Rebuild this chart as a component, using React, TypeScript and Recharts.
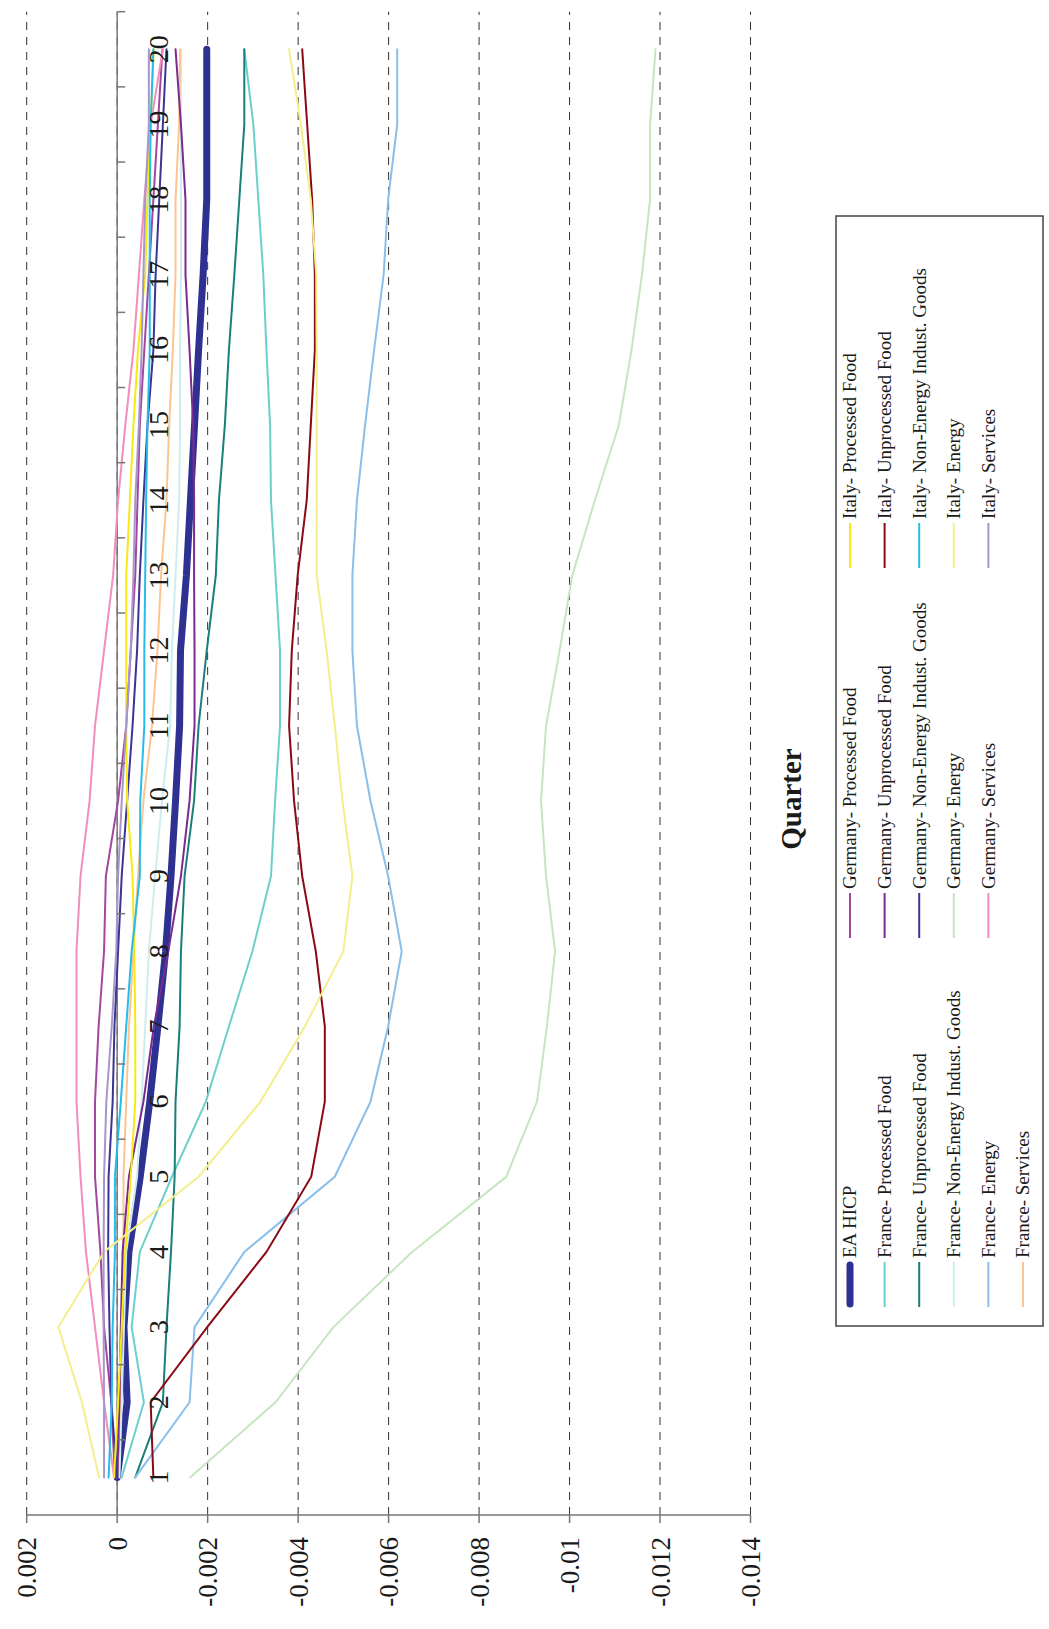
import React from "react"
import { LineChart, Line, XAxis, YAxis, CartesianGrid, ReferenceLine } from "recharts"

// chart is drawn landscape and turned 90deg to match the scanned page
const QUARTERS = ["1", "2", "3", "4", "5", "6", "7", "8", "9", "10", "11", "12", "13", "14", "15", "16", "17", "18", "19", "20"]
const VALUE_TICKS = [0.002, 0, -0.002, -0.004, -0.006, -0.008, -0.01, -0.012, -0.014]

const EA_HICP = [0, -0.22e-3, -0.15e-3, -0.26e-3, -0.51e-3, -0.72e-3, -0.9e-3, -1.07e-3, -1.19e-3, -1.29e-3, -1.38e-3, -1.4e-3, -1.53e-3, -1.62e-3, -1.71e-3, -1.8e-3, -1.9e-3, -1.98e-3, -1.98e-3, -1.98e-3]
const FR_PROC = [-0.1e-3, -0.59e-3, -0.32e-3, -0.5e-3, -1.21e-3, -1.96e-3, -2.47e-3, -2.99e-3, -3.4e-3, -3.49e-3, -3.6e-3, -3.6e-3, -3.5e-3, -3.4e-3, -3.38e-3, -3.3e-3, -3.23e-3, -3.12e-3, -3.01e-3, -2.81e-3]
const FR_UNPROC = [-0.4e-3, -1.01e-3, -1.09e-3, -1.19e-3, -1.27e-3, -1.29e-3, -1.38e-3, -1.41e-3, -1.49e-3, -1.7e-3, -1.8e-3, -1.98e-3, -2.18e-3, -2.25e-3, -2.38e-3, -2.47e-3, -2.59e-3, -2.7e-3, -2.81e-3, -2.81e-3]
const FR_NEIG = [-0.05e-3, -0.1e-3, -0.15e-3, -0.2e-3, -0.44e-3, -0.54e-3, -0.62e-3, -0.7e-3, -0.84e-3, -0.99e-3, -1.17e-3, -1.21e-3, -1.29e-3, -1.37e-3, -1.39e-3, -1.39e-3, -1.41e-3, -1.41e-3, -1.41e-3, -1.41e-3]
const FR_ENERGY = [-0.4e-3, -1.6e-3, -1.71e-3, -2.81e-3, -4.81e-3, -5.6e-3, -5.99e-3, -6.29e-3, -5.99e-3, -5.6e-3, -5.3e-3, -5.2e-3, -5.2e-3, -5.3e-3, -5.48e-3, -5.68e-3, -5.89e-3, -5.99e-3, -6.19e-3, -6.19e-3]
const FR_SERV = [0, -0.06e-3, -0.1e-3, -0.14e-3, -0.14e-3, -0.2e-3, -0.26e-3, -0.36e-3, -0.46e-3, -0.58e-3, -0.77e-3, -0.89e-3, -0.97e-3, -1.09e-3, -1.15e-3, -1.23e-3, -1.29e-3, -1.29e-3, -1.37e-3, -1.39e-3]
const DE_PROC = [0.05e-3, 0.13e-3, 0.29e-3, 0.37e-3, 0.49e-3, 0.49e-3, 0.41e-3, 0.29e-3, 0.25e-3, -0.02e-3, -0.2e-3, -0.3e-3, -0.4e-3, -0.45e-3, -0.5e-3, -0.6e-3, -0.7e-3, -0.8e-3, -0.9e-3, -1.0e-3]
const DE_UNPROC = [0, -0.05e-3, -0.08e-3, -0.12e-3, -0.26e-3, -0.58e-3, -0.81e-3, -1.13e-3, -1.41e-3, -1.6e-3, -1.71e-3, -1.71e-3, -1.7e-3, -1.7e-3, -1.68e-3, -1.6e-3, -1.51e-3, -1.51e-3, -1.41e-3, -1.29e-3]
const DE_NEIG = [0, 0.13e-3, 0.17e-3, 0.2e-3, 0.19e-3, 0.1e-3, 0.06e-3, -0.02e-3, -0.1e-3, -0.22e-3, -0.34e-3, -0.44e-3, -0.5e-3, -0.58e-3, -0.67e-3, -0.8e-3, -0.85e-3, -0.93e-3, -1.01e-3, -1.09e-3]
const DE_ENERGY = [-1.61e-3, -3.5e-3, -4.78e-3, -6.52e-3, -8.6e-3, -9.28e-3, -9.5e-3, -9.68e-3, -9.48e-3, -9.37e-3, -9.48e-3, -9.78e-3, -10.06e-3, -10.56e-3, -11.09e-3, -11.37e-3, -11.6e-3, -11.78e-3, -11.78e-3, -11.9e-3]
const DE_SERV = [0.07e-3, 0.29e-3, 0.49e-3, 0.69e-3, 0.81e-3, 0.9e-3, 0.9e-3, 0.9e-3, 0.81e-3, 0.61e-3, 0.49e-3, 0.29e-3, 0.09e-3, -0.02e-3, -0.18e-3, -0.36e-3, -0.48e-3, -0.6e-3, -0.74e-3, -1.01e-3]
const IT_PROC = [0.07e-3, -0.02e-3, -0.1e-3, -0.18e-3, -0.3e-3, -0.4e-3, -0.4e-3, -0.38e-3, -0.34e-3, -0.22e-3, -0.2e-3, -0.2e-3, -0.2e-3, -0.28e-3, -0.36e-3, -0.46e-3, -0.62e-3, -0.67e-3, -0.74e-3, -0.81e-3]
const IT_UNPROC = [-0.8e-3, -0.74e-3, -1.99e-3, -3.3e-3, -4.29e-3, -4.59e-3, -4.59e-3, -4.39e-3, -4.09e-3, -3.91e-3, -3.8e-3, -3.86e-3, -3.99e-3, -4.19e-3, -4.28e-3, -4.37e-3, -4.37e-3, -4.31e-3, -4.2e-3, -4.09e-3]
const IT_NEIG = [0.19e-3, 0.12e-3, 0.1e-3, 0.05e-3, 0.05e-3, -0.08e-3, -0.2e-3, -0.32e-3, -0.5e-3, -0.51e-3, -0.6e-3, -0.6e-3, -0.62e-3, -0.64e-3, -0.67e-3, -0.72e-3, -0.72e-3, -0.72e-3, -0.74e-3, -0.8e-3]
const IT_ENERGY = [0.4e-3, 0.78e-3, 1.3e-3, 0.29e-3, -1.8e-3, -3.17e-3, -4.15e-3, -5.0e-3, -5.2e-3, -4.98e-3, -4.81e-3, -4.63e-3, -4.41e-3, -4.41e-3, -4.41e-3, -4.41e-3, -4.4e-3, -4.28e-3, -4.06e-3, -3.8e-3]
const IT_SERV = [0.29e-3, 0.29e-3, 0.3e-3, 0.3e-3, 0.29e-3, 0.24e-3, 0.12e-3, 0.02e-3, -0.02e-3, -0.1e-3, -0.2e-3, -0.3e-3, -0.36e-3, -0.4e-3, -0.48e-3, -0.54e-3, -0.58e-3, -0.62e-3, -0.7e-3, -0.7e-3]

// group = legend column (EA + France share the first one)
const SERIES = [
  { name: "EA HICP", data: EA_HICP, color: "#2E3192", width: 7, group: 0 },
  { name: "France- Processed Food", data: FR_PROC, color: "#6DCFCB", width: 2, group: 0 },
  { name: "France- Unprocessed Food", data: FR_UNPROC, color: "#1A7F7A", width: 2, group: 0 },
  { name: "France- Non-Energy Indust. Goods", data: FR_NEIG, color: "#CDEDEE", width: 2, group: 0 },
  { name: "France- Energy", data: FR_ENERGY, color: "#89BFEA", width: 2, group: 0 },
  { name: "France- Services", data: FR_SERV, color: "#FFC38F", width: 2, group: 0 },
  { name: "Germany- Processed Food", data: DE_PROC, color: "#A3479E", width: 2, group: 1 },
  { name: "Germany- Unprocessed Food", data: DE_UNPROC, color: "#7B2A8F", width: 2, group: 1 },
  { name: "Germany- Non-Energy Indust. Goods", data: DE_NEIG, color: "#3A3592", width: 2, group: 1 },
  { name: "Germany- Energy", data: DE_ENERGY, color: "#C6E6C0", width: 2, group: 1 },
  { name: "Germany- Services", data: DE_SERV, color: "#F28DBE", width: 2, group: 1 },
  { name: "Italy- Processed Food", data: IT_PROC, color: "#F5EB12", width: 2, group: 2 },
  { name: "Italy- Unprocessed Food", data: IT_UNPROC, color: "#8A0A14", width: 2, group: 2 },
  { name: "Italy- Non-Energy Indust. Goods", data: IT_NEIG, color: "#25BCEC", width: 2, group: 2 },
  { name: "Italy- Energy", data: IT_ENERGY, color: "#F4EE8C", width: 2, group: 2 },
  { name: "Italy- Services", data: IT_SERV, color: "#A796CC", width: 2, group: 2 },
]

const rows = QUARTERS.map((q, i) => {
  const r: Record<string, any> = { quarter: q }
  SERIES.forEach((s, k) => {
    r["s" + k] = s.data[i]
  })
  return r
})

const W = 1629
const H = 1049
const FONT = "'Liberation Serif', 'Times New Roman', serif"
const PLOT_LEFT = 114
const PLOT_RIGHT = 1617.3
const PLOT_TOP = 26.7
const PLOT_BOTTOM = 750.5
const Y_MAX = 0.002
const Y_MIN = -0.014
const BAND = (PLOT_RIGHT - PLOT_LEFT) / QUARTERS.length
const ZERO_Y = PLOT_TOP + ((PLOT_BOTTOM - PLOT_TOP) * (Y_MAX - 0)) / (Y_MAX - Y_MIN)

const QuarterTick = (props: any) => {
  const { x, payload } = props
  return (
    <g>
      <line x1={x + BAND / 2} x2={x + BAND / 2} y1={ZERO_Y} y2={ZERO_Y + 8} stroke="#777" strokeWidth={1.5} />
      <text x={x} y={ZERO_Y + 51} textAnchor="middle" fontSize={28} fontFamily={FONT} fill="#1a1a1a">
        {payload.value}
      </text>
    </g>
  )
}

// excel legend: equal-width columns
const LEGEND_COLS = [322, 691, 1061]

function ChartLegend() {
  const rowInGroup = [0, 0, 0]
  return (
    <svg width={W} height={H} style={{ position: "absolute", left: 0, top: 0, pointerEvents: "none" }}>
      <text x={830} y={801} textAnchor="middle" fontSize={29} fontWeight="bold" fontFamily={FONT} fill="#1a1a1a">
        Quarter
      </text>
      <rect x={303} y={836} width={1110} height={207} fill="none" stroke="#444" strokeWidth={1.5} />
      {SERIES.map((s) => {
        const row = rowInGroup[s.group]++
        const x0 = LEGEND_COLS[s.group]
        const y = 850 + row * 34.6
        const thick = s.width > 3
        return (
          <g key={s.name}>
            <line x1={x0 + (thick ? 3 : 0)} x2={x0 + 45 - (thick ? 3 : 0)} y1={y} y2={y} stroke={s.color} strokeWidth={s.width} strokeLinecap={thick ? "round" : "butt"} />
            <text x={x0 + 49} y={y} dy="0.34em" fontSize={19} fontFamily={FONT} fill="#1a1a1a">
              {s.name}
            </text>
          </g>
        )
      })}
    </svg>
  )
}

export default function App() {
  return (
    <div style={{ position: "absolute", left: 0, top: 0, width: H, height: W, overflow: "hidden", background: "#fff" }}>
      <div
        style={{
          position: "absolute",
          left: 0,
          top: 0,
          width: W,
          height: H,
          transformOrigin: "0 0",
          transform: `translate(0px, ${W}px) rotate(-90deg)`,
        }}
      >
        <LineChart width={W} height={H} data={rows} margin={{ top: PLOT_TOP, right: W - PLOT_RIGHT, bottom: H - PLOT_BOTTOM - 30, left: PLOT_LEFT - 80 }}>
          <CartesianGrid vertical={false} stroke="#333" strokeDasharray="8 7" />
          <XAxis
            dataKey="quarter"
            type="category"
            height={30}
            axisLine={false}
            tickLine={false}
            interval={0}
            padding={{ left: BAND / 2, right: BAND / 2 }}
            tick={(p: any) => <QuarterTick {...p} />}
          />
          <YAxis
            type="number"
            domain={[Y_MIN, Y_MAX]}
            ticks={VALUE_TICKS}
            width={80}
            axisLine={{ stroke: "#777", strokeWidth: 1.5 }}
            tickLine={{ stroke: "#777", strokeWidth: 1.5 }}
            tickSize={8}
            tickMargin={14}
            tickFormatter={(v: number) => String(v)}
            tick={{ fontSize: 27, fill: "#1a1a1a", fontFamily: FONT }}
          />
          <ReferenceLine y={0} stroke="#7a7a7a" strokeWidth={1.5} />
          {SERIES.map((s, k) => (
            <Line
              key={s.name}
              dataKey={"s" + k}
              name={s.name}
              type="linear"
              stroke={s.color}
              strokeWidth={s.width}
              strokeLinecap="round"
              dot={false}
              isAnimationActive={false}
            />
          ))}
        </LineChart>
        <ChartLegend />
      </div>
    </div>
  )
}
